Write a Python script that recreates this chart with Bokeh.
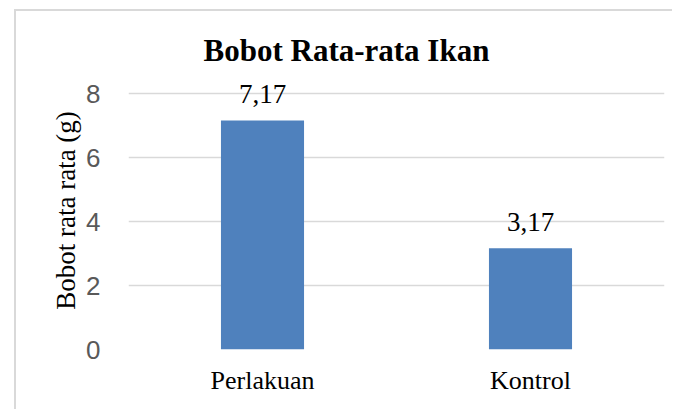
from bokeh.plotting import figure
from bokeh.models import ColumnDataSource, LabelSet, FactorRange, Range1d, FixedTicker
from bokeh.core.properties import value
from bokeh.embed import file_html
from bokeh.resources import INLINE

categories = ["Perlakuan", "Kontrol"]
values = [7.17, 3.17]
value_labels = ["7,17", "3,17"]
y_ticks = [0, 2, 4, 6, 8]
title_text = "Bobot Rata-rata  Ikan"
y_label = "Bobot rata rata (g)"

source = ColumnDataSource(dict(cat=categories, val=values, lab=value_labels))

p = figure(x_range=FactorRange(*categories), y_range=Range1d(0, 8.7),
           width=658, height=400, output_backend="svg", toolbar_location=None,
           min_border_left=112, min_border_right=10, min_border_top=60, min_border_bottom=62,
           margin=(9, 0, 0, 14),
           styles={"border-top": "2px solid #d9d9d9", "border-left": "2px solid #d9d9d9"})

p.vbar(x="cat", top="val", width=0.31, source=source, fill_color="#4F81BD", line_color=None)

labels = LabelSet(x="cat", y="val", text="lab", source=source, text_align="center",
                  text_baseline="alphabetic", y_offset=17,
                  text_font=value("Liberation Serif"), text_font_size="27px", text_color="black")
p.add_layout(labels)

p.title.text = title_text
p.title.text_font = "Liberation Serif"
p.title.text_font_size = "31px"
p.title.text_font_style = "bold"
p.title.text_color = "black"
p.title.align = "left"
p.title.offset = 75
p.title.standoff = 8

p.outline_line_color = None
p.xgrid.grid_line_color = None
p.ygrid.grid_line_color = "#d9d9d9"
p.ygrid.grid_line_width = 1.5

p.xaxis.axis_line_color = None
p.xaxis.major_tick_line_color = None
p.xaxis.minor_tick_line_color = None
p.xaxis.major_label_text_font = "Liberation Serif"
p.xaxis.major_label_text_font_size = "26px"
p.xaxis.major_label_text_color = "black"
p.xaxis.major_label_standoff = 10

p.yaxis.ticker = FixedTicker(ticks=y_ticks)
p.yaxis.axis_line_color = None
p.yaxis.major_tick_line_color = None
p.yaxis.minor_tick_line_color = None
p.yaxis.major_label_text_font = "Liberation Sans"
p.yaxis.major_label_text_font_size = "26px"
p.yaxis.major_label_text_color = "#595959"
p.yaxis.major_label_standoff = 22
p.yaxis.axis_label = y_label
p.yaxis.axis_label_text_font = "Liberation Serif"
p.yaxis.axis_label_text_font_size = "27px"
p.yaxis.axis_label_text_font_style = "normal"
p.yaxis.axis_label_text_color = "black"
p.yaxis.axis_label_standoff = 2

open("out.html", "w").write(file_html(p, INLINE))
